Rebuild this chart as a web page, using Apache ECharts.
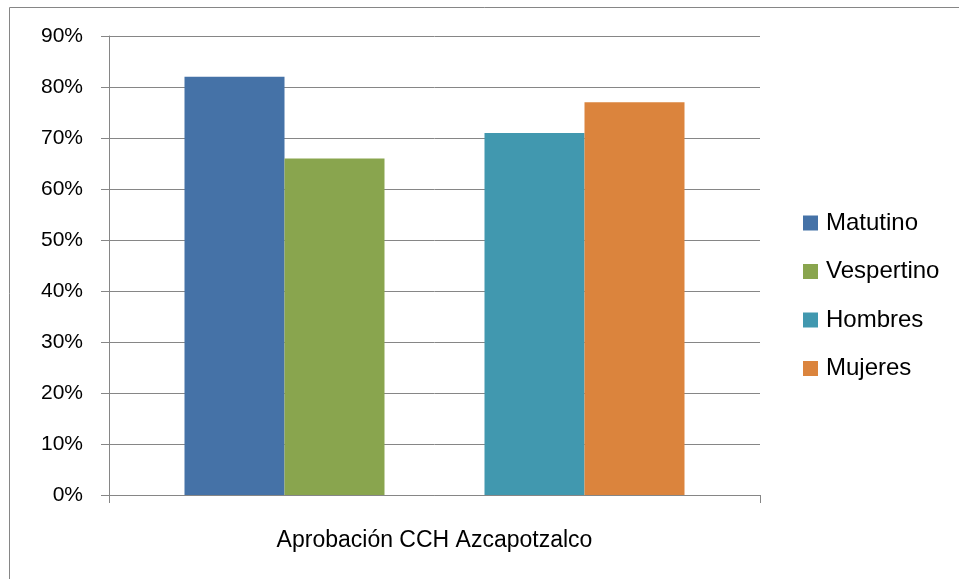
<!DOCTYPE html>
<html><head><meta charset="utf-8">
<script src="https://cdn.jsdelivr.net/npm/echarts@6/dist/echarts.min.js"></script>
<style>html,body{margin:0;padding:0;background:#fff}#c{width:959px;height:579px}</style>
</head><body><div id="c"></div>
<script>
const categories = ['Aprobación CCH Azcapotzalco'];
const seriesNames = ['Matutino', 'Vespertino', 'Hombres', 'Mujeres'];
const matutino = [82];
const vespertino = [66];
const hombres = [71];
const mujeres = [77];
const yTicks = [0, 10, 20, 30, 40, 50, 60, 70, 80, 90];
const colors = ['#4572A7', '#89A54E', '#4198AF', '#DB843D'];
const FONT = '"Liberation Sans", Arial, sans-serif';

const chart = echarts.init(document.getElementById('c'), null, {renderer: 'canvas'});
function bar(name, data, color) {
  return {name, type: 'bar', data, barWidth: 100, barGap: '0%', itemStyle: {color}, animation: false};
}
chart.setOption({
  animation: false,
  graphic: [{type: 'rect', shape: {x: 9.5, y: 7.5, width: 1000, height: 1000}, style: {fill: 'none', stroke: '#868686', lineWidth: 1}, silent: true, z: -1}],
  grid: {left: 109, top: 36, right: 199, bottom: 84, containLabel: false},
  legend: {
    orient: 'vertical', left: 803, top: 211, padding: 0, itemWidth: 15, itemHeight: 15, itemGap: 24.5,
    data: seriesNames, icon: 'rect',
    textStyle: {fontFamily: FONT, fontSize: 24, color: '#000', padding: [0, 0, 0, 3]}
  },
  xAxis: {
    type: 'category', data: categories,
    axisLine: {lineStyle: {color: '#868686', width: 1}},
    axisTick: {show: true, length: 8, lineStyle: {color: '#868686'}},
    axisLabel: {fontFamily: FONT, fontSize: 23, color: '#000', margin: 34}
  },
  yAxis: {
    type: 'value', min: yTicks[0], max: yTicks[yTicks.length - 1], interval: 10,
    axisLine: {show: true, lineStyle: {color: '#868686', width: 1}},
    axisTick: {show: true, length: 8, lineStyle: {color: '#868686'}},
    splitLine: {lineStyle: {color: '#868686', width: 1}},
    axisLabel: {fontFamily: FONT, fontSize: 21, color: '#000', margin: 26, formatter: '{value}%'}
  },
  series: [
    bar(seriesNames[0], matutino, colors[0]),
    bar(seriesNames[1], vespertino, colors[1]),
    {name: '', type: 'bar', data: ['-'], barWidth: 100, barGap: '0%'},
    bar(seriesNames[2], hombres, colors[2]),
    bar(seriesNames[3], mujeres, colors[3])
  ]
});
</script></body></html>
